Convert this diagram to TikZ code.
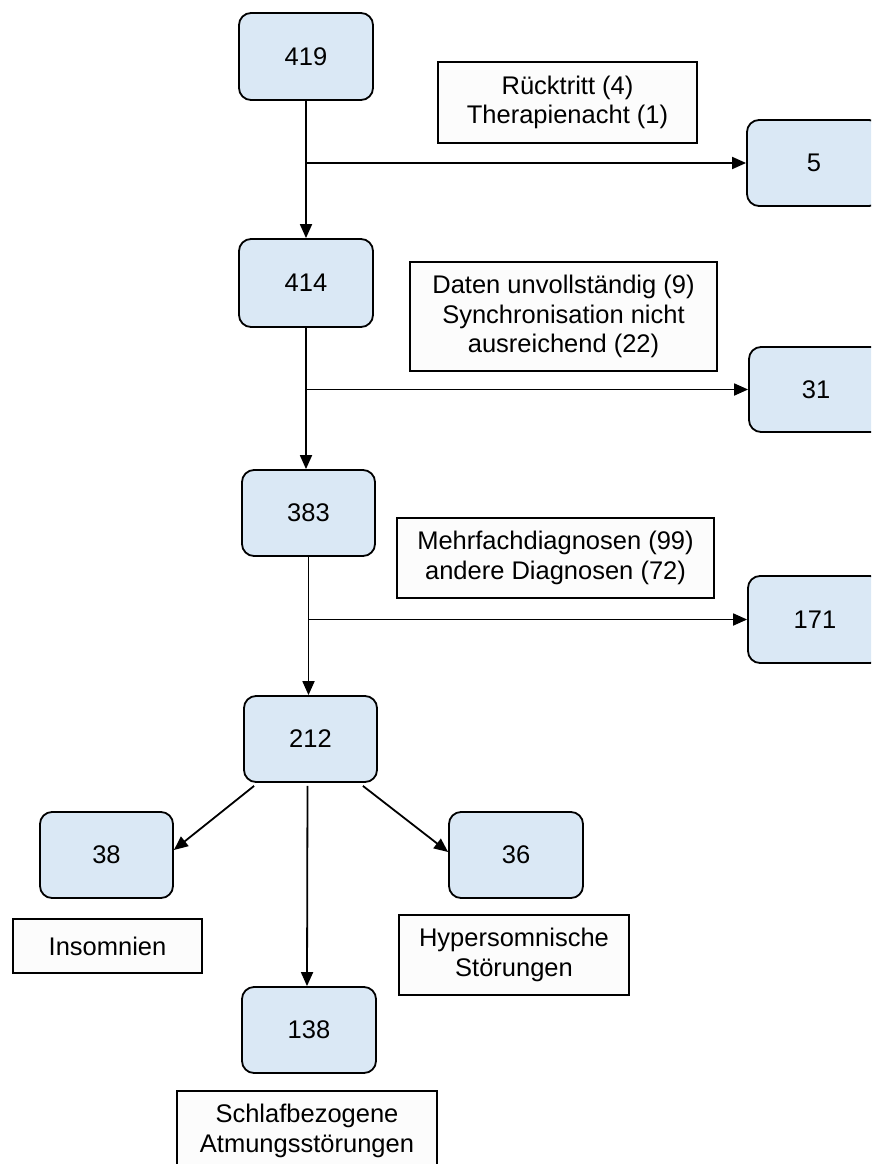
\documentclass[tikz,border=0pt]{standalone}
\usepackage{fontspec}
\setmainfont{Liberation Sans}
\usetikzlibrary{arrows.meta}
\definecolor{boxblue}{RGB}{218,232,245}
\definecolor{labelbg}{RGB}{252,252,252}
\tikzset{
  numbox/.style={draw=black, line width=1.8pt, fill=boxblue, rounded corners=12pt,
    minimum width=134pt, minimum height=86pt, inner sep=0pt,
    font=\fontsize{25.5}{29.5}\selectfont},
  lblbox/.style={draw=black, line width=1.8pt, fill=labelbg, inner sep=0pt,
    align=center, font=\fontsize{25.5}{29.5}\selectfont},
  conn/.style={line width=1.8pt, draw=black},
  arr/.style={conn, -{Triangle[length=14pt,width=12pt]}}
}
\begin{document}
\begin{tikzpicture}[x=1pt,y=-1pt]
\path[use as bounding box] (0,0) rectangle (871,1164);
\clip (0,0) rectangle (871,1164);
\fill[white] (0,0) rectangle (871,1164);

% number boxes
\node[numbox, minimum height=87pt] (n419) at (306,56.5) {419};
\node[numbox] (n5)   at (814,163) {5};
\node[numbox, minimum height=88pt] (n414) at (306,283) {414};
\node[numbox, minimum height=85pt] (n31)  at (816,389.5) {31};
\node[numbox, minimum width=133pt] (n383) at (308.5,513) {383};
\node[numbox, minimum height=87pt] (n171) at (815,619.5) {171};
\node[numbox, minimum width=133pt] (n212) at (310.5,739) {212};
\node[numbox, minimum width=133pt] (n38)  at (106.5,855) {38};
\node[numbox] (n36)  at (516,855) {36};
\node[numbox] (n138) at (309,1030) {138};

% label boxes
\node[lblbox, minimum width=259pt, minimum height=81pt] (l1) at (567.5,102.5)
  {Rücktritt (4)\\Therapienacht (1)};
\node[lblbox, minimum width=307pt, minimum height=109pt] (l2) at (563.5,316.5)
  {Daten unvollständig (9)\\Synchronisation nicht\\ausreichend (22)};
\node[lblbox, minimum width=317pt, minimum height=80pt] (l3) at (555.5,558)
  {Mehrfachdiagnosen (99)\\andere Diagnosen (72)};
\node[lblbox, minimum width=189pt, minimum height=54pt] (l4) at (107.5,946)
  {Insomnien};
\node[lblbox, minimum width=230pt, minimum height=80pt] (l5) at (514,955)
  {Hypersomnische\\Störungen};
\node[lblbox, minimum width=260pt, minimum height=80pt] (l6) at (307,1131)
  {Schlafbezogene\\Atmungsstörungen};

% main flow
\draw[arr] (n419.south) -- (n419.south |- n414.north);
\coordinate (b1) at (n419.south |- n5.west);
\draw[arr] (b1) -- (n5.west);

\draw[arr] (n414.south) -- (n414.south |- n383.north);
\coordinate (b2) at (n414.south |- n31.west);
\draw[arr] (b2) -- (n31.west);

\draw[arr] (n383.south) -- (n383.south |- n212.north);
\coordinate (b3) at (n383.south |- n171.west);
\draw[arr] (b3) -- (n171.west);

% split
\draw[arr] ([xshift=11pt,yshift=-3pt]n212.south west) -- ([yshift=5pt]n38.east);
\draw[arr] ([xshift=-15pt,yshift=-3pt]n212.south east) -- ([yshift=3pt]n36.west);
\draw[arr] ([xshift=-3pt,yshift=-3pt]n212.south) -- ([xshift=-2pt]n138.north);
\end{tikzpicture}
\end{document}
